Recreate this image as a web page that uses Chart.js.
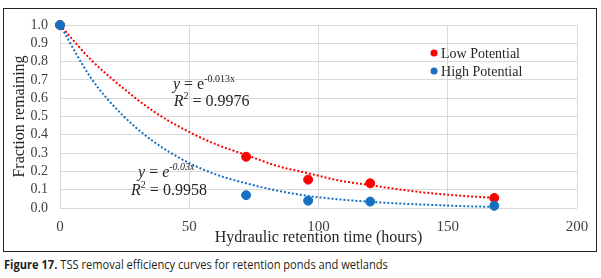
<!DOCTYPE html>
<html>
<head>
<meta charset="utf-8">
<script src="https://cdn.jsdelivr.net/npm/chart.js@4/dist/chart.umd.min.js"></script>
<style>
  html, body { margin: 0; padding: 0; background: #fff; }
  #wrap { position: relative; width: 601px; height: 278px; overflow: hidden; }
  #frame { position: absolute; left: 3px; top: 8px; width: 592px; height: 242px; border: 1.5px solid #222; }
  #chartBox { position: absolute; left: 0; top: 0; width: 601px; height: 252px; }
  #caption { position: absolute; left: 4px; top: 258px; font-family: 'Open Sans', sans-serif; font-size: 12px; color: #231f20; white-space: nowrap; line-height: 14px; transform: scaleX(0.925); transform-origin: left top; }
  #caption b { font-weight: 700; }
</style>
</head>
<body>
<div id="wrap">
  <div id="frame"></div>
  <div id="chartBox"><canvas id="chart"></canvas></div>
  <div id="caption"><b>Figure 17.</b> TSS removal efficiency curves for retention ponds and wetlands</div>
</div>
<script>
// measured points (hours vs fraction remaining)
const hours = [0, 72, 96, 120, 168];
const lowPotential = [1.0, 0.28, 0.155, 0.135, 0.055];
const highPotential = [1.0, 0.07, 0.04, 0.035, 0.012];

// exponential trendlines
const trendHours = [0, 12, 24, 36, 48, 60, 72, 84, 96, 108, 120, 132, 144, 156, 168];
const lowTrend = [1.0, 0.81, 0.66, 0.53, 0.43, 0.35, 0.29, 0.23, 0.19, 0.15, 0.125, 0.10, 0.08, 0.066, 0.055];
const highTrend = [1.0, 0.71, 0.51, 0.365, 0.26, 0.185, 0.135, 0.095, 0.066, 0.047, 0.034, 0.024, 0.017, 0.010, 0.006];

const xTicks = [0, 50, 100, 150, 200];
const yTicks = [0, 0.1, 0.2, 0.3, 0.4, 0.5, 0.6, 0.7, 0.8, 0.9, 1.0];

const RED = '#ff0000';
const BLUE = '#1570c2';
const SERIF = "'Liberation Serif', 'Times New Roman', serif";

const toXY = (xs, ys) => xs.map((x, i) => ({ x: x, y: ys[i] }));

// trendline equations, placed in data coordinates
const equations = [
  { x: 43.7, y: 0.65, parts: [{ t: 'y', it: true }, { t: ' = e' }, { t: '-0.013x', sup: true }] },
  { x: 44, y: 0.557, parts: [{ t: 'R', it: true }, { t: '2', sup: true }, { t: ' = 0.9976' }] },
  { x: 30.2, y: 0.17, parts: [{ t: 'y', it: true }, { t: ' = ' }, { t: 'e', it: true }, { t: '-0.03x', sup: true, it: true }] },
  { x: 27.5, y: 0.071, parts: [{ t: 'R', it: true }, { t: '2', sup: true }, { t: ' = 0.9958' }] }
];

const legendItems = [
  { label: 'Low Potential', color: RED, x: 144.7, y: 0.847 },
  { label: 'High Potential', color: BLUE, x: 144.7, y: 0.749 }
];

const overlayPlugin = {
  id: 'overlay',
  afterDatasetsDraw(chart) {
    const ctx = chart.ctx;
    const xs = chart.scales.x, ys = chart.scales.y;
    ctx.save();
    ctx.fillStyle = '#262626';
    ctx.textBaseline = 'alphabetic';
    equations.forEach(eq => {
      let px = xs.getPixelForValue(eq.x);
      const py = ys.getPixelForValue(eq.y);
      eq.parts.forEach(p => {
        const size = p.sup ? 10 : 16;
        ctx.font = (p.it ? 'italic ' : '') + size + 'px ' + SERIF;
        ctx.fillText(p.t, px, p.sup ? py - 7 : py);
        px += ctx.measureText(p.t).width;
      });
    });
    legendItems.forEach(it => {
      const px = xs.getPixelForValue(it.x);
      const py = ys.getPixelForValue(it.y);
      ctx.beginPath();
      ctx.fillStyle = it.color;
      ctx.arc(px, py, 3.5, 0, Math.PI * 2);
      ctx.fill();
      ctx.fillStyle = '#262626';
      ctx.font = '14px ' + SERIF;
      ctx.fillText(it.label, px + 7, py + 5);
    });
    ctx.restore();
  }
};

new Chart(document.getElementById('chart'), {
  type: 'scatter',
  data: {
    datasets: [
      {
        label: 'High Potential',
        data: toXY(hours, highPotential),
        backgroundColor: BLUE,
        borderColor: BLUE,
        pointRadius: 4.5,
        clip: false,
        order: 0
      },
      {
        label: 'Low Potential',
        data: toXY(hours, lowPotential),
        backgroundColor: RED,
        borderColor: RED,
        pointRadius: 4.5,
        clip: false,
        order: 1
      },
      {
        label: 'Low trend',
        data: toXY(trendHours, lowTrend),
        showLine: true,
        borderColor: RED,
        borderWidth: 2,
        borderDash: [2, 2],
        pointRadius: 0,
        cubicInterpolationMode: 'monotone',
        order: 2
      },
      {
        label: 'High trend',
        data: toXY(trendHours, highTrend),
        showLine: true,
        borderColor: BLUE,
        borderWidth: 2,
        borderDash: [2, 2],
        pointRadius: 0,
        cubicInterpolationMode: 'monotone',
        order: 3
      }
    ]
  },
  options: {
    responsive: true,
    maintainAspectRatio: false,
    animation: false,
    layout: { padding: { top: 25, right: 24, left: 0, bottom: 0 } },
    plugins: {
      legend: { display: false },
      tooltip: { enabled: false }
    },
    scales: {
      x: {
        type: 'linear',
        min: 0,
        max: 200,
        afterBuildTicks: s => { s.ticks = xTicks.map(v => ({ value: v })); },
        afterFit: s => { s.height = 44; },
        grid: { color: '#d9d9d9', drawTicks: false },
        border: { display: false },
        ticks: {
          color: '#404040',
          padding: 10,
          maxRotation: 0,
          autoSkip: false,
          font: { family: SERIF, size: 15 }
        },
        title: {
          display: true,
          text: 'Hydraulic retention time (hours)',
          color: '#262626',
          font: { family: SERIF, size: 16 },
          padding: { top: 0, bottom: 5 }
        }
      },
      y: {
        min: 0,
        max: 1,
        afterBuildTicks: s => { s.ticks = yTicks.map(v => ({ value: v })); },
        afterFit: s => { s.width = 60; },
        grid: { color: '#d9d9d9', drawTicks: false },
        border: { display: false },
        ticks: {
          color: '#404040',
          padding: 12,
          autoSkip: false,
          font: { family: SERIF, size: 14 },
          callback: v => v.toFixed(1)
        },
        title: {
          display: true,
          text: 'Fraction remaining',
          color: '#262626',
          font: { family: SERIF, size: 16 },
          padding: { top: 10, bottom: 0 }
        }
      }
    }
  },
  plugins: [overlayPlugin]
});
</script>
</body>
</html>
